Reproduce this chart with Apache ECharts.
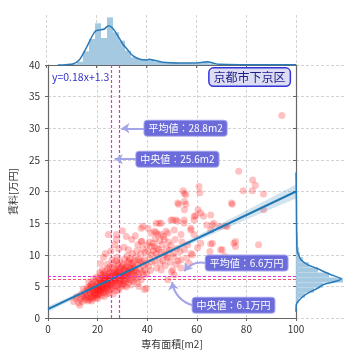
<!DOCTYPE html>
<html><head><meta charset="utf-8">
<script src="https://cdn.jsdelivr.net/npm/echarts@6/dist/echarts.min.js"></script>
<style>html,body{margin:0;padding:0;background:#fff}#c{width:360px;height:360px}</style>
</head><body><div id="c"></div>
<script>
const FONT = '"Noto Sans CJK JP", "Noto Sans", sans-serif';
const xTitle = '専有面積[m2]';
const yTitle = '賃料[万円]';
const areaName = '京都市下京区';
const eqText = 'y=0.18x+1.3';
const meanX = 28.8, medianX = 25.6, meanY = 6.6, medianY = 6.1;
const meanXText = '平均値：28.8m2', medianXText = '中央値：25.6m2';
const meanYText = '平均値：6.6万円', medianYText = '中央値：6.1万円';

const points = [
[10.3,2.6],[11.2,3.1],[11.6,3.4],[12.3,2.4],[12.8,2.0],[13.0,3.0],[13.4,3.8],[13.8,2.6],[14.0,3.3],[14.2,4.6],[14.5,3.5],[14.9,2.9],[15.0,4.2],[15.3,3.7],[15.5,3.2],[15.8,4.8],[16.0,3.6],[16.1,2.7],[16.2,4.5],[16.4,5.7],[16.5,2.9],[16.7,4.1],[16.8,5.0],[17.0,3.9],[17.1,3.2],[17.2,4.8],[17.4,5.3],[17.5,3.3],[17.6,2.7],[17.8,5.5],[17.9,4.4],[18.0,4.2],[18.1,3.0],[18.2,3.6],[18.4,6.2],[18.5,5.1],[18.6,4.0],[18.7,4.5],[18.9,3.4],[19.0,3.8],[19.0,5.8],[19.2,4.6],[19.3,4.9],[19.5,3.2],[19.6,6.5],[19.7,5.4],[19.9,4.3],[19.9,3.6],
[20.0,4.6],[20.1,3.1],[20.2,5.6],[20.3,3.7],[20.4,4.9],[20.5,6.3],[20.6,5.0],[20.7,4.3],[20.8,4.1],[20.9,7.2],[21.0,6.0],[21.0,5.3],[21.1,3.9],[21.2,4.4],[21.3,5.8],[21.4,6.8],[21.5,3.5],[21.6,5.7],[21.7,4.7],[21.8,4.9],[21.9,7.6],[22.0,6.4],[22.0,5.1],[22.1,5.9],[22.2,4.0],[22.3,7.0],[22.4,4.5],[22.5,5.5],[22.6,6.1],[22.7,3.4],[22.8,4.6],[22.9,6.7],[23.0,5.9],[23.0,7.4],[23.1,4.9],[23.2,5.2],[23.3,4.2],[23.4,6.3],[23.5,6.6],[23.6,5.6],[23.7,3.8],[23.8,4.8],[23.9,8.5],[24.0,6.2],[24.0,7.8],[24.1,5.4],[24.2,6.0],[24.3,4.4],[24.4,6.9],[24.5,5.1],[24.6,5.8],[24.7,3.9],[24.8,7.3],[24.9,6.5],[24.9,8.1],
[25.0,5.0],[25.1,6.3],[25.2,6.0],[25.3,7.2],[25.4,5.3],[25.5,4.6],[25.6,6.6],[25.7,5.5],[25.8,9.2],[25.9,8.0],[26.0,6.2],[26.1,4.8],[26.2,7.0],[26.3,3.8],[26.4,5.7],[26.5,8.6],[26.6,6.4],[26.7,5.9],[26.8,5.1],[26.9,7.5],[27.0,6.0],[27.1,6.9],[27.2,4.3],[27.3,6.8],[27.4,9.0],[27.5,5.6],[27.6,7.3],[27.7,7.8],[27.8,6.3],[27.9,9.6],[28.0,5.0],[28.0,7.2],[28.1,6.6],[28.2,8.4],[28.3,6.0],[28.4,4.4],[28.5,5.4],[28.6,6.7],[28.7,7.9],[28.8,7.6],[28.9,4.8],[29.0,8.9],[29.1,6.3],[29.2,5.9],[29.3,5.7],[29.4,7.1],[29.5,6.9],[29.6,8.1],[29.8,6.6],[29.9,5.2],
[30.0,7.3],[30.1,6.0],[30.2,6.6],[30.3,8.5],[30.4,5.4],[30.5,7.8],[30.6,6.8],[30.8,9.3],[30.9,5.1],[31.0,7.6],[31.0,5.8],[31.2,6.5],[31.3,8.0],[31.4,8.2],[31.5,4.9],[31.7,7.0],[31.8,6.1],[31.9,9.8],[32.0,6.2],[32.1,8.8],[32.2,7.1],[32.3,7.4],[32.5,5.6],[32.6,6.7],[32.7,9.0],[32.8,8.0],[33.0,7.2],[33.0,9.4],[33.2,6.0],[33.3,7.7],[33.4,5.2],[33.5,8.6],[33.6,6.9],[33.8,7.8],[34.0,10.2],[34.1,6.4],[34.2,8.1],[34.3,8.7],[34.5,7.4],[34.6,5.8],[34.8,9.1],[34.9,6.8],
[35.0,8.0],[35.2,6.2],[35.3,7.5],[35.4,9.6],[35.6,7.3],[35.8,10.6],[36.0,5.5],[36.1,8.4],[36.2,11.6],[36.3,7.0],[36.5,9.2],[36.7,5.0],[36.8,6.5],[37.0,8.8],[37.2,7.7],[37.4,10.1],[37.6,6.05],[37.7,9.0],[37.8,12.1],[38.0,7.3],[38.2,11.0],[38.4,8.3],[38.6,6.8],[38.9,9.2],[38.9,7.6],[38.9,4.5],[39.2,10.4],[39.5,8.6],[39.6,4.7],[39.8,7.0],[39.9,11.5],
[24.3,13.2],[27.6,13.2],[27.6,12.4],[26.9,11.6],[25.4,10.6],[28.5,10.9],[30.6,11.2],[32.4,10.8],[33.8,12.4],[37.6,14.2],[37.6,12.1],[38.3,14.5],[35.2,13.0],[31.6,12.9],[22.4,9.6],[21.2,8.6],[23.2,10.2],[30.0,13.8],
[40.3,10.5],[40.3,14.2],[40.5,8.2],[40.8,12.0],[41.0,9.4],[41.3,7.5],[41.6,11.3],[41.6,13.4],[41.8,10.0],[42.0,8.8],[42.3,11.8],[42.5,10.6],[42.9,11.3],[42.9,13.7],[43.0,9.0],[43.2,12.5],[43.5,10.2],[43.6,15.0],[43.6,13.5],[43.8,7.9],[44.0,11.0],[44.3,13.2],[44.5,9.6],[44.8,10.8],[44.9,15.0],[45.0,12.2],[45.3,8.6],[45.6,7.6],[45.6,13.2],[45.6,15.0],[45.8,10.4],[46.0,11.6],[46.3,9.1],[46.6,12.9],[46.9,12.4],[47.0,10.0],[47.3,8.3],[47.6,13.7],[47.8,11.0],[48.0,9.5],[48.3,9.7],[48.3,13.4],[48.3,6.05],[48.6,12.0],[49.0,10.7],[49.3,8.8],[49.6,11.5],[49.6,15.5],[49.8,7.3],
[50.3,7.6],[50.3,15.5],[50.6,10.2],[50.9,9.7],[50.9,13.9],[50.9,6.8],[51.2,12.4],[51.6,15.5],[51.6,8.5],[52.0,11.0],[52.3,15.3],[52.3,18.2],[52.4,9.0],[52.7,18.0],[53.2,10.5],[53.6,9.2],[53.6,13.2],[53.6,7.9],[54.0,12.0],[54.5,20.1],[54.9,19.7],[54.9,15.5],[54.9,15.0],[55.0,10.8],[55.0,17.1],[55.0,18.4],[55.6,18.0],[55.6,19.5],[56.0,9.5],[56.3,11.6],[57.0,8.6],[57.6,13.9],[57.6,10.2],[57.6,14.2],[58.3,10.0],[58.9,13.2],[58.9,15.5],[58.9,16.1],[59.6,16.2],[60.3,11.1],[60.5,17.1],[60.9,20.8],[61.2,19.8],[61.6,16.6],[61.6,11.8],
[62.7,16.1],[64.0,14.7],[65.3,10.5],[65.6,11.7],[65.6,16.3],[65.6,13.9],[66.3,14.7],[66.3,11.8],[66.9,15.0],[69.3,14.5],[69.6,10.8],[70.3,10.8],[71.2,9.8],[71.6,14.5],[72.3,14.5],[74.0,18.2],[74.3,18.0],[74.9,11.8],[75.6,12.1],[75.6,11.3],[76.9,23.2],[78.7,20.1],[82.4,20.1],[82.5,21.8],[83.6,21.0],[84.9,11.6],[86.9,19.6],[86.9,17.1],[94.3,32.0]
];

const regLine = [[0,1.4],[100,20.0]];
const bandX = [0,10,20,30,40,50,60,70,80,90,100];
const bandHalf = [0.45,0.32,0.22,0.17,0.2,0.3,0.42,0.56,0.72,0.9,1.1];

const topBinStart = 10, topBinWidth = 2.4;
const topHist = [3,10,41,78,125,81,143,98,73,43,23,18,17,15,9,7,6,6,5,5,4,5,10,4,2,2,1,1,1,0,1,1,0,0,0,1];
const topKde = [[4.7,0],[8,1],[10.7,3],[13.3,15],[16,50],[18.7,90],[20,103],[21.3,105],[23.3,108],[25,118],[26.7,110],[28.7,88],[30.7,63],[32.7,45],[34.7,28],[37.3,18],[40,15],[41.3,17],[43.3,14],[46.7,8],[53.3,6],[58.7,6],[62.7,8],[64.7,10],[66.7,6],[69.3,2],[80,1],[100,0.5]];

const rightBinStart = 1.6, rightBinWidth = 0.8;
const rightHist = [1,3,9,18,27,47,33,22,13,7,4,3,2,2,1.5,1,1,1,0.8,0.6,0.5,0.5,0.4,0.3];
const rightKde = [[0,1.0],[0.3,2.1],[2,2.6],[7,3.4],[15,4.2],[22,4.74],[27,5.26],[40,5.8],[45,6.16],[35,6.84],[27,7.4],[20,7.9],[12,8.4],[5,9.2],[1.7,10.3],[1,10.8],[0.7,13],[0.5,16],[0.3,20],[0,23]];

const annX = [38.9, 35.6, 63.6, 58.3];
const annY = [30.0, 25.1, 8.7, 2.0];
const arrowTip = [[29.6,30.0],[26.9,25.1],[54.9,7.4],[50.0,5.7]];
const arrowCurve = [0, 0, -0.3, 0.3];

const chart = echarts.init(document.getElementById('c'), null, {renderer:'canvas'});
const AX = '#666', GRID = '#c8c8c8', TXT = '#333';
const split = {show:true, lineStyle:{color:GRID, type:[3,2], width:0.8}};
const MAG = '#e030e0', PINK = '#ff4f6a';

const topHistData = topHist.map((h,i)=>[topBinStart+i*topBinWidth, topBinStart+(i+1)*topBinWidth, h]);
const rightHistData = rightHist.map((h,i)=>[rightBinStart+i*rightBinWidth, rightBinStart+(i+1)*rightBinWidth, h]);

const option = {
  animation:false,
  textStyle:{fontFamily:FONT},
  grid:[
    {left:46, top:65, width:250, height:253},
    {left:46, top:15, width:250, height:50},
    {left:296, top:65, width:49, height:253}
  ],
  xAxis:[
    {gridIndex:0, type:'value', min:0, max:100, interval:20, name:xTitle, nameLocation:'middle', nameGap:13,
     nameTextStyle:{fontSize:10, color:TXT, fontFamily:FONT},
     axisLine:{lineStyle:{color:AX, width:1.2}}, axisTick:{length:3, lineStyle:{color:AX}},
     axisLabel:{fontSize:10, color:TXT, margin:6, fontFamily:FONT}, splitLine:split},
    {gridIndex:1, type:'value', min:0, max:100, interval:20, axisLabel:{show:false},
     axisLine:{lineStyle:{color:AX, width:1.2}}, axisTick:{show:true, length:3, lineStyle:{color:AX}}, splitLine:split},
    {gridIndex:2, type:'value', min:0, max:49, show:false}
  ],
  yAxis:[
    {gridIndex:0, type:'value', min:0, max:40, interval:5, name:yTitle, nameLocation:'middle', nameGap:19,
     nameTextStyle:{fontSize:10, color:TXT, fontFamily:FONT},
     axisLine:{show:true, lineStyle:{color:AX, width:1.2}}, axisTick:{show:true, length:3, lineStyle:{color:AX}},
     axisLabel:{fontSize:10, color:TXT, margin:8, fontFamily:FONT}, splitLine:split},
    {gridIndex:1, type:'value', min:0, max:150, show:false},
    {gridIndex:2, type:'value', min:0, max:40, interval:5, axisLabel:{show:false},
     axisLine:{show:true, lineStyle:{color:AX, width:1.2}}, axisTick:{show:true, length:3, lineStyle:{color:AX}}, splitLine:split}
  ],
  series:[
    {type:'scatter', xAxisIndex:0, yAxisIndex:0, data:points, symbolSize:7,
     itemStyle:{color:'rgba(255,0,0,0.3)'}, z:2, silent:true},
    {type:'custom', xAxisIndex:0, yAxisIndex:0, data:[[0,0]], z:3, silent:true,
     renderItem:function(params, api){
       const up = bandX.map((x,i)=>api.coord([x, regLine[0][1] + (regLine[1][1]-regLine[0][1])*x/100 + bandHalf[i]]));
       const lo = bandX.map((x,i)=>api.coord([x, regLine[0][1] + (regLine[1][1]-regLine[0][1])*x/100 - bandHalf[i]])).reverse();
       return {type:'polygon', shape:{points:up.concat(lo)}, style:{fill:'rgba(31,119,180,0.2)'}};
     }},
    {type:'line', xAxisIndex:0, yAxisIndex:0, data:regLine, showSymbol:false, z:4,
     lineStyle:{color:'#1f77b4', width:2}},
    {type:'line', xAxisIndex:0, yAxisIndex:0, data:[], z:5, color:MAG,
     markLine:{silent:true, symbol:['none','none'], label:{show:false},
       lineStyle:{color:MAG, type:[3,2], width:1.2, opacity:1},
       data:[
         {xAxis:meanX, lineStyle:{color:MAG, type:[3,2], width:1.2}},
         {xAxis:medianX, lineStyle:{color:MAG, type:[3,2], width:1.2}},
         {yAxis:meanY, lineStyle:{color:MAG, type:[3,2], width:1.2}},
         {yAxis:medianY, lineStyle:{color:PINK, type:[3,2], width:1.2}}
       ]}},
    {type:'lines', coordinateSystem:'cartesian2d', xAxisIndex:0, yAxisIndex:0, z:6, silent:true,
     symbol:['none','arrow'], symbolSize:8,
     data: arrowTip.map((t,i)=>({coords:[[annX[i], annY[i]], t], lineStyle:{curveness:arrowCurve[i]}})),
     lineStyle:{color:'#a4a4e8', width:2, opacity:1}},
    {type:'custom', xAxisIndex:1, yAxisIndex:1, data:topHistData, encode:{x:[0,1], y:2}, silent:true,
     renderItem:function(params, api){
       const p0 = api.coord([api.value(0), api.value(2)]);
       const p1 = api.coord([api.value(1), 0]);
       return {type:'rect', shape:{x:p0[0], y:p0[1], width:p1[0]-p0[0], height:p1[1]-p0[1]}, style:{fill:'#a5c9e1'}};
     }},
    {type:'line', xAxisIndex:1, yAxisIndex:1, data:topKde, showSymbol:false, smooth:0.3,
     lineStyle:{color:'#2a7ab8', width:1.5}},
    {type:'custom', xAxisIndex:2, yAxisIndex:2, data:rightHistData, encode:{x:2, y:[0,1]}, silent:true,
     renderItem:function(params, api){
       const p0 = api.coord([0, api.value(1)]);
       const p1 = api.coord([api.value(2), api.value(0)]);
       return {type:'rect', shape:{x:p0[0], y:p0[1], width:p1[0]-p0[0], height:p1[1]-p0[1]}, style:{fill:'#a5c9e1'}};
     }},
    {type:'line', xAxisIndex:2, yAxisIndex:2, data:rightKde, showSymbol:false, smooth:0.3,
     lineStyle:{color:'#2a7ab8', width:1.5}}
  ]
};
chart.setOption(option);

function px(x,y){ return chart.convertToPixel({gridIndex:0}, [x,y]); }
const boxStyle = {fill:'#fff', backgroundColor:'#6b6bd9', borderColor:'#a9a9ee', borderWidth:1, borderRadius:3,
  padding:[3,4,2,4], fontSize:10, fontFamily:FONT};
const texts = [meanXText, medianXText, meanYText, medianYText];
const graphics = texts.map((t,i)=>{
  const p = px(annX[i], annY[i]);
  return {type:'text', x:p[0], y:p[1], z:100, style:Object.assign({text:t, align:'left', verticalAlign:'middle'}, boxStyle)};
});
const pe = px(1.6, 38.1);
graphics.push({type:'text', x:pe[0], y:pe[1], z:100, style:{text:eqText, fill:'#3535cc', fontSize:10.5, fontFamily:FONT, align:'left', verticalAlign:'middle'}});
const pa = px(81.3, 38.1);
graphics.push({type:'text', x:pa[0], y:pa[1], z:100, style:{text:areaName, fill:'#1c1c8a', fontSize:12, fontFamily:FONT, align:'center', verticalAlign:'middle',
  backgroundColor:'#dcdcf2', borderColor:'#3434dd', borderWidth:1.5, borderRadius:4, padding:[3,4,2,4]}});
chart.setOption({graphic:graphics});
</script></body></html>
